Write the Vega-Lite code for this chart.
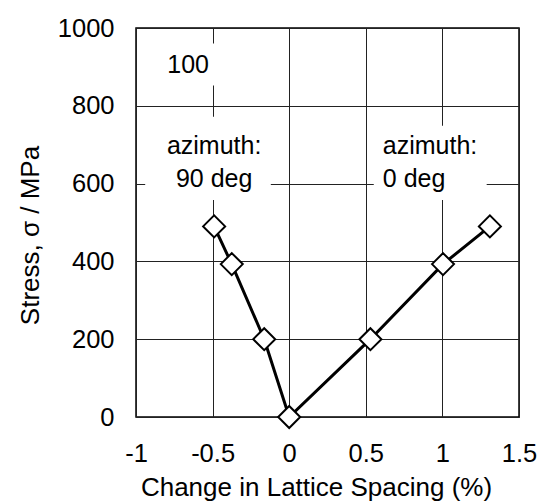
{
  "$schema": "https://vega.github.io/schema/vega-lite/v6.json",
  "width": 383,
  "height": 389,
  "autosize": "none",
  "padding": {"left": 136, "top": 28, "right": 20, "bottom": 87},
  "background": "white",
  "config": {
    "font": "Liberation Sans",
    "view": {"stroke": "black", "strokeWidth": 1.5},
    "axis": {
      "labelFont": "Liberation Sans",
      "titleFont": "Liberation Sans",
      "labelFontSize": 25.5,
      "titleFontSize": 26,
      "labelColor": "black",
      "titleColor": "black",
      "titleFontWeight": "normal",
      "ticks": false,
      "domain": false,
      "gridColor": "#222",
      "gridWidth": 1,
      "gridOpacity": 1,
      "labelExpr": "'' + datum.value"
    }
  },
  "datasets": {
    "pts": [
      {"x": -0.49, "y": 490},
      {"x": -0.375, "y": 393},
      {"x": -0.163, "y": 200},
      {"x": 0, "y": 0},
      {"x": 0.53, "y": 200},
      {"x": 1.004, "y": 393},
      {"x": 1.31, "y": 490}
    ],
    "boxes": [
      {"x1": -0.85, "x2": -0.46, "y1": 852, "y2": 960},
      {"x1": -0.94, "x2": -0.12, "y1": 558, "y2": 772},
      {"x1": 0.552, "x2": 1.289, "y1": 558, "y2": 749}
    ],
    "labelsC": [
      {"x": -0.66, "y": 906, "t": "100"},
      {"x": -0.49, "y": 697, "t": "azimuth:"},
      {"x": -0.49, "y": 612, "t": "90 deg"}
    ],
    "labelsL": [
      {"x": 0.611, "y": 697, "t": "azimuth:"},
      {"x": 0.611, "y": 612, "t": "0 deg"}
    ]
  },
  "layer": [
    {
      "data": {"name": "boxes"},
      "mark": {"type": "rect", "color": "white", "opacity": 1},
      "encoding": {
        "x": {"field": "x1", "type": "quantitative",
          "scale": {"domain": [-1, 1.5], "nice": false, "zero": false},
          "axis": {"values": [-1, -0.5, 0, 0.5, 1, 1.5], "labelPadding": 24, "title": "Change in Lattice Spacing (%)", "titlePadding": 8, "titleX": 180, "grid": true, "labelFlush": false}},
        "x2": {"field": "x2"},
        "y": {"field": "y1", "type": "quantitative",
          "scale": {"domain": [0, 1000], "nice": false},
          "axis": {"values": [0, 200, 400, 600, 800, 1000], "labelPadding": 22, "title": "Stress, σ / MPa", "titlePadding": 14, "titleY": 207, "grid": true, "labelFlush": false}},
        "y2": {"field": "y2"}
      }
    },
    {
      "data": {"name": "labelsC"},
      "mark": {"type": "text", "fontSize": 25, "font": "Liberation Sans", "align": "center", "baseline": "middle", "color": "black"},
      "encoding": {
        "x": {"field": "x", "type": "quantitative"},
        "y": {"field": "y", "type": "quantitative"},
        "text": {"field": "t"}
      }
    },
    {
      "data": {"name": "labelsL"},
      "mark": {"type": "text", "fontSize": 25, "font": "Liberation Sans", "align": "left", "baseline": "middle", "color": "black"},
      "encoding": {
        "x": {"field": "x", "type": "quantitative"},
        "y": {"field": "y", "type": "quantitative"},
        "text": {"field": "t"}
      }
    },
    {
      "data": {"name": "pts"},
      "mark": {"type": "line", "color": "black", "strokeWidth": 3},
      "encoding": {
        "x": {"field": "x", "type": "quantitative"},
        "y": {"field": "y", "type": "quantitative"}
      }
    },
    {
      "data": {"name": "pts"},
      "mark": {"type": "point", "shape": "diamond", "size": 484, "filled": true, "fill": "white", "stroke": "black", "strokeWidth": 2, "opacity": 1},
      "encoding": {
        "x": {"field": "x", "type": "quantitative"},
        "y": {"field": "y", "type": "quantitative"}
      }
    }
  ]
}
